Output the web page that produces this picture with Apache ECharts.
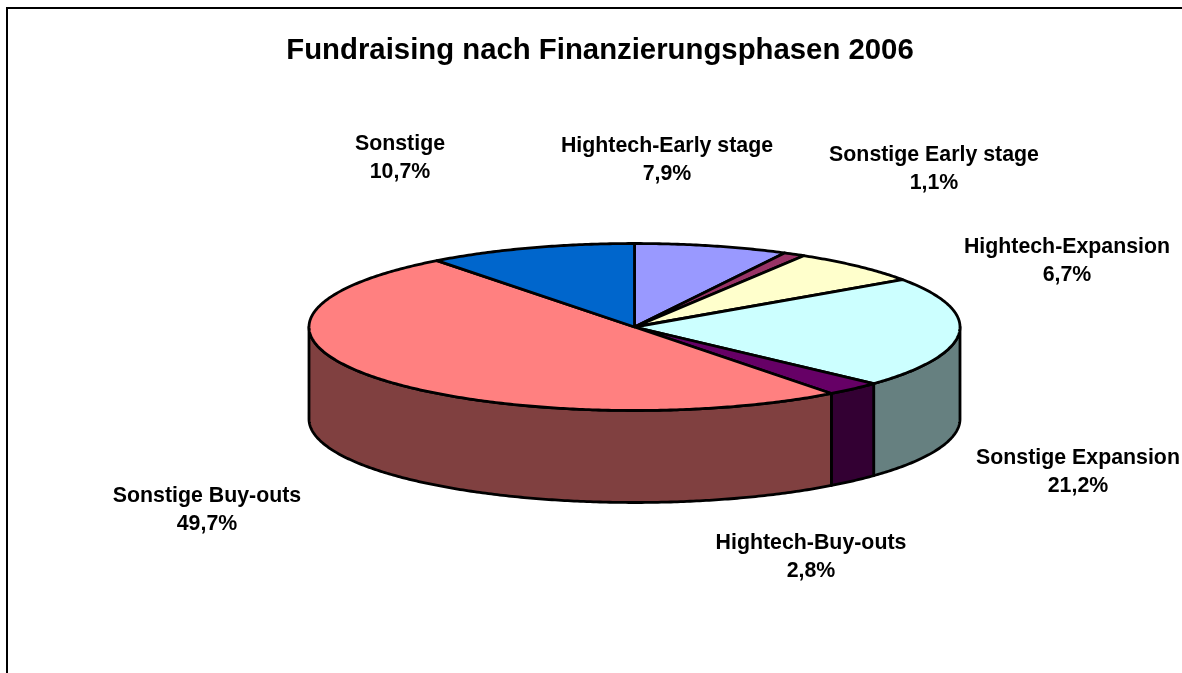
<!DOCTYPE html>
<html>
<head>
<meta charset="utf-8">
<style>html,body{margin:0;padding:0;background:#fff}#c{width:1182px;height:673px}</style>
<script src="https://cdn.jsdelivr.net/npm/echarts@6/dist/echarts.min.js"></script>
</head>
<body>
<div id="c"></div>
<script>
const categories = ['Hightech-Early stage','Sonstige Early stage','Hightech-Expansion','Sonstige Expansion','Hightech-Buy-outs','Sonstige Buy-outs','Sonstige'];
const shares = [7.9, 1.1, 6.7, 21.2, 2.8, 49.7, 10.7];
const topColors = ['#9999FF','#993366','#FFFFCC','#CCFFFF','#660066','#FF8080','#0066CC'];
const wallColors = ['#4D4D80','#4D1A33','#808066','#668080','#330033','#804040','#003366'];
const labelCentres = [[667,160],[934,169],[1067,261],[1078,472],[811,557.5],[207,510],[400,158]];

const titleText = 'Fundraising nach Finanzierungsphasen 2006';
const disc = {cx:634.5, cy:327, rx:325.5, ry:83.5, depth:92, farTilt:0.02};
const total = shares.reduce((a,b)=>a+b,0);
const INK = '#000';
const FONT = '"Liberation Sans", Arial, sans-serif';

function pt(t, dy){
  // the far half of the disc is slightly foreshortened toward its back point
  const u = Math.cos(t) > 0 ? t - disc.farTilt*Math.sin(2*t) : t;
  return [disc.cx + disc.rx*Math.sin(u), disc.cy - disc.ry*Math.cos(u) + (dy||0)];
}
function arc(a, b, dy){
  const n = Math.max(2, Math.ceil((b-a)/0.01));
  const out = [];
  for(let i=0;i<=n;i++) out.push(pt(a+(b-a)*i/n, dy));
  return out;
}
function renderItem(params, api){
  const i = params.dataIndex;
  let before = 0;
  for(let k=0;k<i;k++) before += shares[k];
  const a = before/total*2*Math.PI;
  const b = a + api.value(0)/total*2*Math.PI;
  const children = [];
  const lo = Math.max(a, Math.PI/2), hi = Math.min(b, 1.5*Math.PI);
  if(hi > lo){
    children.push({type:'polygon', silent:true,
      shape:{points: arc(lo,hi,0).concat(arc(lo,hi,disc.depth).reverse())},
      style:{fill:wallColors[i], stroke:INK, lineWidth:2.8, lineJoin:'round'}});
  }
  children.push({type:'polygon', z2:5,
    shape:{points: [[disc.cx,disc.cy]].concat(arc(a,b,0))},
    style:{fill:topColors[i], stroke:INK, lineWidth:2.8, lineJoin:'round'}});
  children.push({type:'text', z2:10, silent:true,
    x:labelCentres[i][0], y:labelCentres[i][1],
    style:{text: categories[i]+'\n'+api.value(0).toFixed(1).replace('.',',')+'%',
      font:'bold 21.33px '+FONT, fill:INK, align:'center', verticalAlign:'middle', lineHeight:28}});
  return {type:'group', children};
}
const chart = echarts.init(document.getElementById('c'), null, {renderer:'canvas'});
chart.setOption({
  animation:false,
  backgroundColor:'#fff',
  title:{text:titleText, left:595, top:31, textAlign:'center',
    textStyle:{fontFamily:FONT, fontWeight:'bold', fontSize:29.33, color:INK}},
  graphic:[{type:'polyline', silent:true, shape:{points:[[7,673],[7,8],[1182,8]]},
    style:{fill:'none', stroke:INK, lineWidth:2}}],
  series:[{type:'custom', coordinateSystem:'none', renderItem,
    data: shares.map((v,i)=>({name:categories[i], value:v}))}]
});
</script>
</body>
</html>
